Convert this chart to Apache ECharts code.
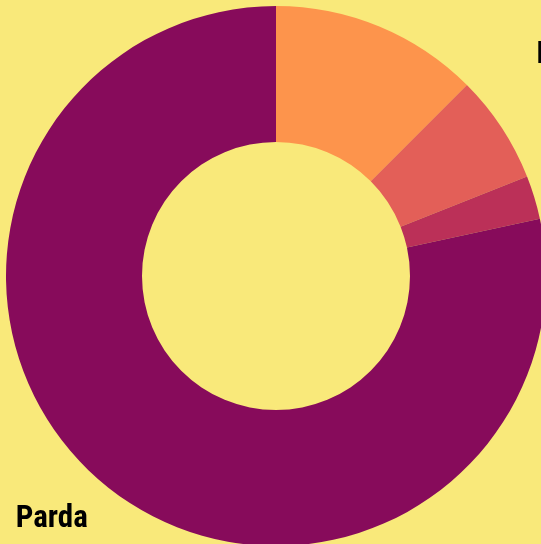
<!DOCTYPE html>
<html>
<head>
<meta charset="utf-8">
<script src="https://cdn.jsdelivr.net/npm/echarts@6/dist/echarts.min.js"></script>
<style>
html,body{margin:0;padding:0;background:#f9e97a;}
#chart{width:541px;height:544px;}
</style>
</head>
<body>
<div id="chart"></div>
<script>
var categories = ['Branca', 'Preta', 'Indígena', 'Parda'];
var values = [12.5, 6.5, 2.6, 78.4];
var colors = ['#fd944c', '#e35f58', '#bb3058', '#870b5b'];
// label line lengths per slice (label placement only)
var lineLen1 = [-31, 30, 30, 42.6];
var lineLen2 = [164, 20, 20, -13];

var chart = echarts.init(document.getElementById('chart'), null, {renderer: 'canvas'});
chart.setOption({
  backgroundColor: '#f9e97a',
  animation: false,
  series: [{
    type: 'pie',
    center: [276, 276],
    radius: [134, 270],
    startAngle: 90,
    clockwise: true,
    avoidLabelOverlap: false,
    data: categories.map(function (c, i) {
      return {
        name: c, value: values[i],
        itemStyle: {color: colors[i]},
        labelLine: {show: false, length: lineLen1[i], length2: lineLen2[i]}
      };
    }),
    label: {
      show: true,
      position: 'outside',
      overflow: 'none',
      color: '#000',
      fontFamily: '"Roboto Condensed", Roboto, sans-serif',
      fontWeight: 'bold',
      fontSize: 31
    },
    labelLine: {show: false}
  }]
});
</script>
</body>
</html>
